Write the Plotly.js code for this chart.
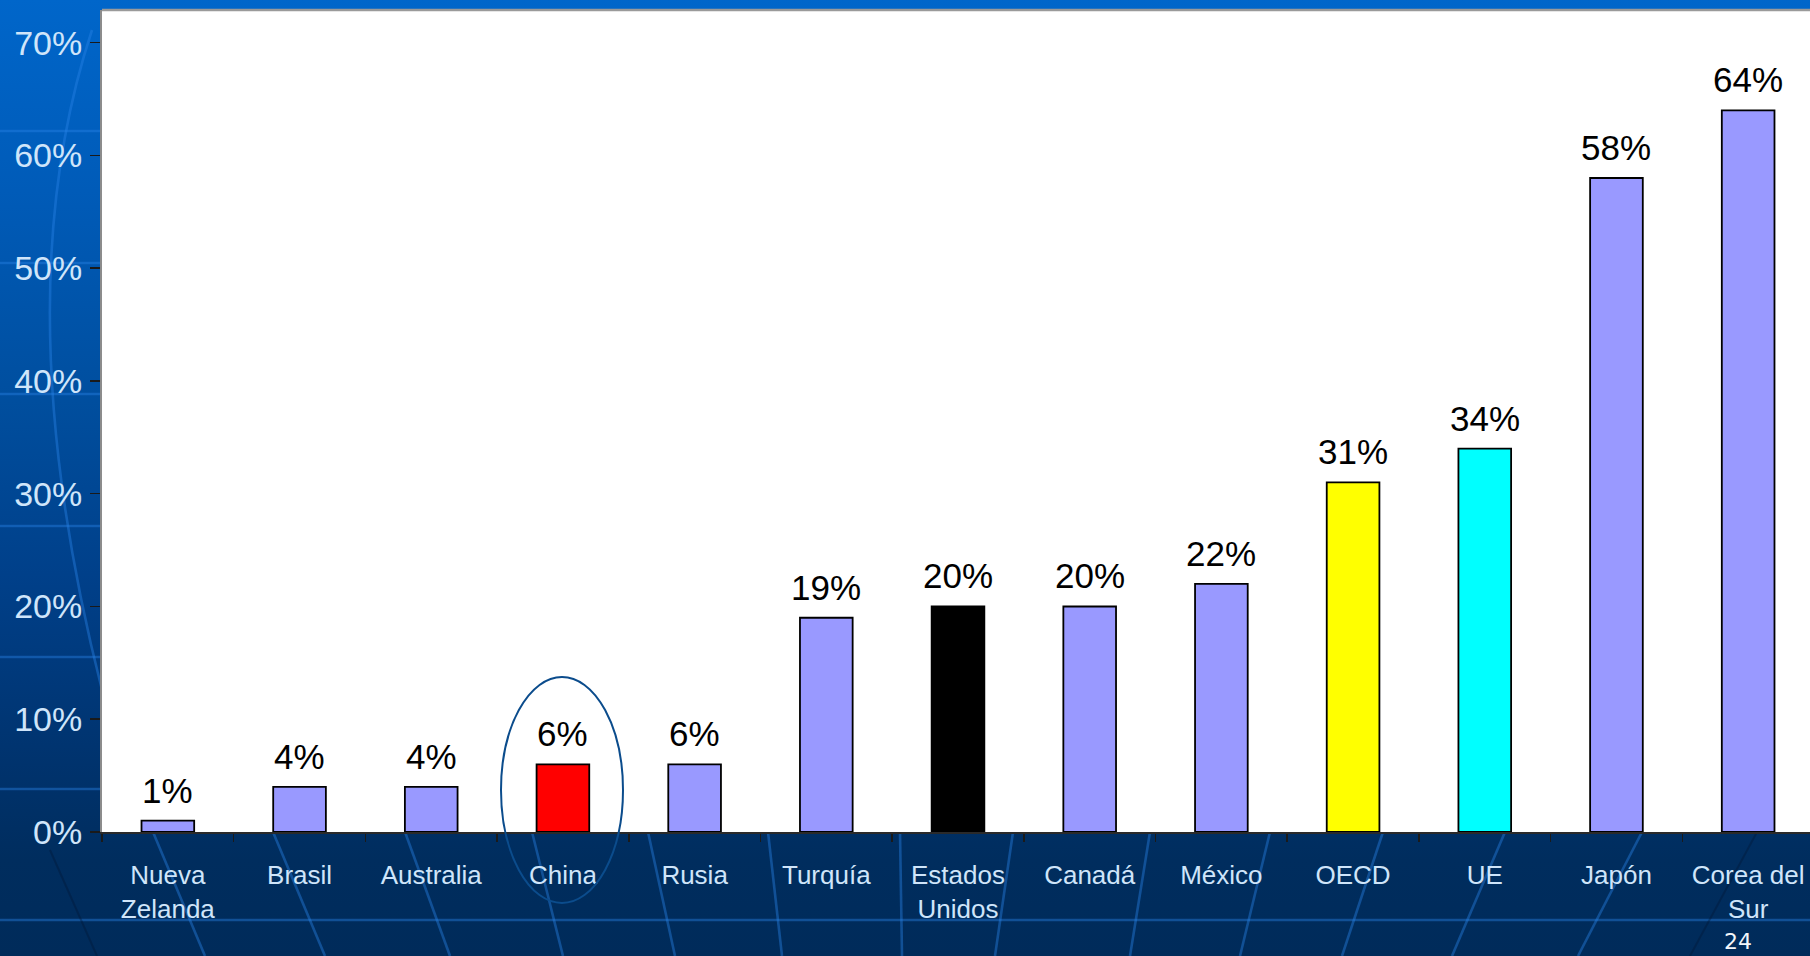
<!DOCTYPE html>
<html>
<head>
<meta charset="utf-8">
<script src="https://cdn.plot.ly/plotly-3.0.1.min.js"></script>
<style>
  html, body { margin:0; padding:0; width:1810px; height:956px; overflow:hidden; }
  body { background: linear-gradient(to bottom, #0066CA 0%, #005BB8 20%, #004E9E 42%, #00408A 60%, #003470 78%, #002D5E 90%, #002B5A 100%); position:relative; }
  #bg { position:absolute; left:0; top:0; z-index:0; }
  #chart { position:absolute; left:0; top:0; z-index:1; width:1814px; height:956px; }
</style>
</head>
<body>
<svg id="bg" width="1810" height="956"></svg>
<div id="chart"></div>
<script>
// ---- data ----
const categories = ['Nueva Zelanda','Brasil','Australia','China','Rusia','Turquía','Estados Unidos','Canadá','México','OECD','UE','Japón','Corea del Sur'];
const tickLabels = ['Nueva<br>Zelanda','Brasil','Australia','China','Rusia','Turquía','Estados<br>Unidos','Canadá','México','OECD','UE','Japón','Corea del<br>Sur'];
const values = [0.01,0.04,0.04,0.06,0.06,0.19,0.20,0.20,0.22,0.31,0.34,0.58,0.64];
const barColors = ['#9999FF','#9999FF','#9999FF','#FF0000','#9999FF','#9999FF','#000000','#9999FF','#9999FF','#FFFF00','#00FFFF','#9999FF','#9999FF'];
const yTickVals = [0,0.1,0.2,0.3,0.4,0.5,0.6,0.7];
const yTickText = ['0%','10%','20%','30%','40%','50%','60%','70%'];
const pageNumber = '24';

// ---- decorative slide background ----
const svg = document.getElementById('bg');
const NS = 'http://www.w3.org/2000/svg';
function addLine(x1,y1,x2,y2,color,w){
  const l=document.createElementNS(NS,'line');
  l.setAttribute('x1',x1);l.setAttribute('y1',y1);l.setAttribute('x2',x2);l.setAttribute('y2',y2);
  l.setAttribute('stroke',color);l.setAttribute('stroke-width',w);
  svg.appendChild(l);
}
const deco = 'rgba(40,130,230,0.42)';
[131,263,394,526,657,789,920].forEach(y=>addLine(0,y,1810,y,deco,2.6));
[[153,205],[273,325],[405,450],[532,563],[648,675],[768,782],[900,902],[1013,995],[1150,1130],[1270,1240],[1383,1342],[1505,1452],[1642,1578]]
  .forEach(p=>addLine(p[0],832,p[1],956,deco,2.6));
addLine(1757,832,1690,956,'rgba(0,20,50,0.35)',2);
addLine(50,850,97,956,'rgba(0,20,50,0.35)',2);
const arc=document.createElementNS(NS,'path');
arc.setAttribute('d','M92,30 Q3,300 102,690');
arc.setAttribute('fill','none');arc.setAttribute('stroke',deco);arc.setAttribute('stroke-width',2.6);
svg.appendChild(arc);

// ---- chart ----
const W=1814, H=956, L=102, R=0, T=10, B=124;
const pw=W-L-R, ph=H-T-B;
function px2x(p){return (p-L)/pw;}
function px2y(p){return (H-B-p)/ph;}

const trace = {
  type:'bar', x:categories, y:values,
  marker:{color:barColors, line:{color:'#000000', width:1.8}},
  hoverinfo:'skip'
};

const annotations = values.map((v,i)=>({
  x:categories[i], y:v, xref:'x', yref:'y', text:Math.round(v*100)+'%',
  showarrow:false, yanchor:'bottom', yshift:9,
  font:{family:'Liberation Sans, Arial, sans-serif', size:35, color:'#000000'}
}));
annotations.push({
  xref:'paper', yref:'paper', x:px2x(1738), y:px2y(927), xanchor:'center', yanchor:'top',
  text:pageNumber, showarrow:false,
  font:{family:'DejaVu Sans, sans-serif', size:22, color:'#F2F6FA'}
});

const layout = {
  width:W, height:H,
  margin:{l:L, r:R, t:T, b:B, pad:0},
  paper_bgcolor:'rgba(0,0,0,0)',
  plot_bgcolor:'#FFFFFF',
  showlegend:false,
  bargap:0.6,
  font:{family:'Liberation Sans, Arial, sans-serif'},
  xaxis:{
    type:'category', tickvals:categories, ticktext:tickLabels,
    tickson:'boundaries', ticks:'outside', ticklen:8, tickwidth:1.5, tickcolor:'#1a1a1a',
    showline:true, linecolor:'#2a2a2a', linewidth:2,
    showgrid:false, zeroline:false,
    tickfont:{family:'Liberation Sans, Arial, sans-serif', size:26, color:'#CFE5FA'},
    ticklabelstandoff:19,
    range:[-0.5,12.5], fixedrange:true
  },
  yaxis:{
    range:[0,0.729], tickvals:yTickVals, ticktext:yTickText,
    ticks:'outside', ticklen:10, tickwidth:1.5, tickcolor:'#1a1a1a',
    showline:true, linecolor:'#8c8c8c', linewidth:2,
    showgrid:false, zeroline:false,
    tickfont:{family:'Liberation Sans, Arial, sans-serif', size:34, color:'#CFE5FA'},
    ticklabelstandoff:1,
    fixedrange:true
  },
  shapes:[
    {type:'line', xref:'paper', yref:'paper', x0:0, x1:1, y0:1, y1:1, line:{color:'#9a9a9a', width:2.5}, layer:'above'},
    {type:'circle', xref:'paper', yref:'paper', x0:px2x(501), x1:px2x(623), y0:px2y(903), y1:px2y(677),
     line:{color:'#0B4C8C', width:2}, fillcolor:'rgba(0,0,0,0)', layer:'above'}
  ],
  annotations:annotations
};

Plotly.newPlot('chart',[trace],layout,{displayModeBar:false, staticPlot:true});
</script>
</body>
</html>
